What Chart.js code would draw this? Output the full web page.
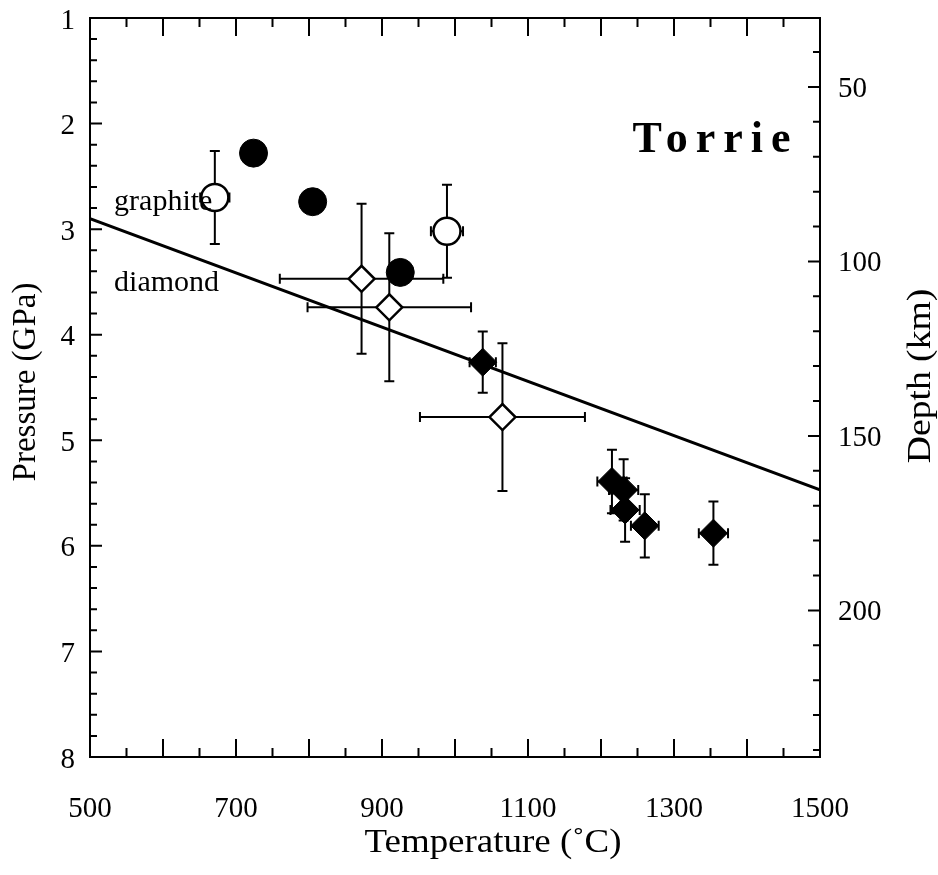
<!DOCTYPE html>
<html>
<head>
<meta charset="utf-8">
<title>Torrie – P–T estimates</title>
<script src="https://cdn.jsdelivr.net/npm/chart.js@4.4.1/dist/chart.umd.min.js"></script>
<style>
  html, body { margin: 0; padding: 0; background: #fff; }
  canvas { display: block; }
</style>
</head>
<body>
<canvas id="pt" width="938" height="875"></canvas>
<script>
// Temperature (°C) and pressure (GPa) estimates, with their uncertainties
const openCircleT = [671, 989];
const openCircleP = [2.70, 3.02];
const openCircleTErr = [20, 22];
const openCirclePErr = [0.44, 0.44];

const filledCircleT = [724, 805, 925];
const filledCircleP = [2.28, 2.74, 3.41];

const openDiamondT = [872, 910, 1065];
const openDiamondP = [3.47, 3.74, 4.78];
const openDiamondTErr = [112, 112, 113];
const openDiamondPErr = [0.71, 0.70, 0.70];

const filledDiamondT = [1038, 1215, 1231, 1233, 1260, 1354];
const filledDiamondP = [4.26, 5.39, 5.47, 5.66, 5.81, 5.88];
const filledDiamondTErr = [18, 20, 20, 20, 19, 20];
const filledDiamondPErr = [0.29, 0.30, 0.29, 0.30, 0.30, 0.30];

// graphite–diamond transition line
const boundaryT = [500, 1500];
const boundaryP = [2.90, 5.47];

// axis ticks
const tempTicks = [500, 700, 900, 1100, 1300, 1500];
const pressureTicks = [1, 2, 3, 4, 5, 6, 7, 8];
const depthTicks = [50, 100, 150, 200];
const KM_PER_GPA = 30.25;

const SERIF = '"Liberation Serif", "Times New Roman", serif';

function points(xs, ys) {
  return xs.map((v, i) => ({ x: v, y: ys[i] }));
}

// text drawn with a slight stretch along its own direction
function wideText(ctx, text, x, y, angle, stretch) {
  ctx.save();
  ctx.translate(x, y);
  ctx.rotate(angle);
  ctx.scale(stretch, 1);
  ctx.fillText(text, 0, 0);
  ctx.restore();
}

// Error bars, frame tick marks, titles and in-plot labels
const framePlugin = {
  id: 'frame',
  beforeDatasetsDraw(chart) {
    const { ctx } = chart;
    const xs = chart.scales.x, ys = chart.scales.y;
    const CAP = 5;
    ctx.save();
    ctx.strokeStyle = '#000';
    ctx.lineWidth = 2;
    chart.data.datasets.forEach(ds => {
      if (!ds.errT && !ds.errP) return;
      ds.data.forEach((pt, i) => {
        const cx = xs.getPixelForValue(pt.x);
        const cy = ys.getPixelForValue(pt.y);
        ctx.beginPath();
        if (ds.errP) {
          const y0 = ys.getPixelForValue(pt.y - ds.errP[i]);
          const y1 = ys.getPixelForValue(pt.y + ds.errP[i]);
          ctx.moveTo(cx, y0); ctx.lineTo(cx, y1);
          ctx.moveTo(cx - CAP, y0); ctx.lineTo(cx + CAP, y0);
          ctx.moveTo(cx - CAP, y1); ctx.lineTo(cx + CAP, y1);
        }
        if (ds.errT) {
          const x0 = xs.getPixelForValue(pt.x - ds.errT[i]);
          const x1 = xs.getPixelForValue(pt.x + ds.errT[i]);
          ctx.moveTo(x0, cy); ctx.lineTo(x1, cy);
          ctx.moveTo(x0, cy - CAP); ctx.lineTo(x0, cy + CAP);
          ctx.moveTo(x1, cy - CAP); ctx.lineTo(x1, cy + CAP);
        }
        ctx.stroke();
      });
    });
    ctx.restore();
  },
  afterDraw(chart) {
    const { ctx, chartArea: a } = chart;
    const xs = chart.scales.x, ys = chart.scales.y, ds = chart.scales.y2;
    ctx.save();
    ctx.strokeStyle = '#000';
    ctx.lineWidth = 2;
    ctx.beginPath();
    // top frame line
    ctx.moveTo(a.left - 1, a.top); ctx.lineTo(a.right + 1, a.top);
    // temperature ticks, bottom and top, pointing inward
    for (let t = 550; t < 1500; t += 50) {
      const px = xs.getPixelForValue(t);
      const len = t % 100 === 0 ? 18 : 9;
      ctx.moveTo(px, a.bottom); ctx.lineTo(px, a.bottom - len);
      ctx.moveTo(px, a.top); ctx.lineTo(px, a.top + len);
    }
    // pressure ticks on the left, every 0.2 GPa
    for (let k = 1; k < 35; k++) {
      const py = ys.getPixelForValue(1 + k * 0.2);
      const len = k % 5 === 0 ? 12 : 7;
      ctx.moveTo(a.left, py); ctx.lineTo(a.left + len, py);
    }
    // depth ticks on the right, every 10 km
    for (let d = 40; d <= 240; d += 10) {
      const py = ds.getPixelForValue(d);
      const len = d % 50 === 0 ? 12 : 7;
      ctx.moveTo(a.right, py); ctx.lineTo(a.right - len, py);
    }
    ctx.stroke();

    ctx.fillStyle = '#000';
    // field labels
    ctx.font = '30px ' + SERIF;
    ctx.textAlign = 'left';
    ctx.textBaseline = 'alphabetic';
    ctx.fillText('graphite', xs.getPixelForValue(533), ys.getPixelForValue(2.82));
    ctx.fillText('diamond', xs.getPixelForValue(533), ys.getPixelForValue(3.59));

    // locality name
    ctx.font = 'bold 44px ' + SERIF;
    ctx.letterSpacing = '8px';
    ctx.fillText('Torrie', xs.getPixelForValue(1243), ys.getPixelForValue(2.27));
    ctx.letterSpacing = '0px';

    // axis titles
    ctx.font = '33px ' + SERIF;
    ctx.textAlign = 'center';
    wideText(ctx, 'Temperature (\u02DAC)', a.left + 403, a.bottom + 95, 0, 1.12);
    wideText(ctx, 'Pressure (GPa)', 35, a.top + 364, -Math.PI / 2, 1);
    wideText(ctx, 'Depth (km)', a.right + 110, a.top + 358, -Math.PI / 2, 1.14);

    ctx.restore();
  }
};

const tickFont = { family: SERIF, size: 29 };
const border = { display: true, color: '#000', width: 2 };
const plainLabel = v => String(v);

new Chart(document.getElementById('pt'), {
  type: 'scatter',
  data: {
    datasets: [
      {
        type: 'line',
        data: points(boundaryT, boundaryP),
        borderColor: '#000',
        borderWidth: 3,
        pointRadius: 0,
        fill: false,
        showLine: true,
        order: 5
      },
      {
        data: points(openCircleT, openCircleP),
        errT: openCircleTErr,
        errP: openCirclePErr,
        pointStyle: 'circle',
        pointRadius: 13.5,
        backgroundColor: '#fff',
        borderColor: '#000',
        borderWidth: 2.5
      },
      {
        data: points(filledCircleT, filledCircleP),
        pointStyle: 'circle',
        pointRadius: 14,
        backgroundColor: '#000',
        borderColor: '#000',
        borderWidth: 1
      },
      {
        data: points(openDiamondT, openDiamondP),
        errT: openDiamondTErr,
        errP: openDiamondPErr,
        pointStyle: 'rectRot',
        pointRadius: 13,
        backgroundColor: '#fff',
        borderColor: '#000',
        borderWidth: 2.5
      },
      {
        data: points(filledDiamondT, filledDiamondP),
        errT: filledDiamondTErr,
        errP: filledDiamondPErr,
        pointStyle: 'rectRot',
        pointRadius: 14,
        backgroundColor: '#000',
        borderColor: '#000',
        borderWidth: 1
      }
    ]
  },
  options: {
    responsive: false,
    animation: false,
    events: [],
    layout: { padding: { top: 18, left: 0, right: 0, bottom: 0 } },
    plugins: { legend: { display: false }, tooltip: { enabled: false } },
    scales: {
      x: {
        type: 'linear', position: 'bottom', min: 500, max: 1500,
        afterFit(s) { s.height = 118; s.paddingLeft = 0; s.paddingRight = 0; },
        afterBuildTicks(s) { s.ticks = tempTicks.map(v => ({ value: v })); },
        grid: { display: false, drawTicks: false },
        border,
        ticks: { font: tickFont, color: '#000', padding: 35, maxRotation: 0, autoSkip: false, callback: plainLabel }
      },
      y: {
        type: 'linear', position: 'left', min: 1, max: 8, reverse: true,
        afterFit(s) { s.width = 90; s.paddingTop = 0; s.paddingBottom = 0; },
        afterBuildTicks(s) { s.ticks = pressureTicks.map(v => ({ value: v })); },
        grid: { display: false, drawTicks: false },
        border,
        ticks: { font: tickFont, color: '#000', padding: 15, labelOffset: 3, autoSkip: false, callback: plainLabel }
      },
      y2: {
        type: 'linear', position: 'right',
        min: 1 * KM_PER_GPA, max: 8 * KM_PER_GPA, reverse: true,
        afterFit(s) { s.width = 118; s.paddingTop = 0; s.paddingBottom = 0; },
        afterBuildTicks(s) { s.ticks = depthTicks.map(v => ({ value: v })); },
        grid: { display: false, drawTicks: false },
        border,
        ticks: { font: tickFont, color: '#000', padding: 18, labelOffset: 2, autoSkip: false, callback: plainLabel }
      }
    }
  },
  plugins: [framePlugin]
});
</script>
</body>
</html>
